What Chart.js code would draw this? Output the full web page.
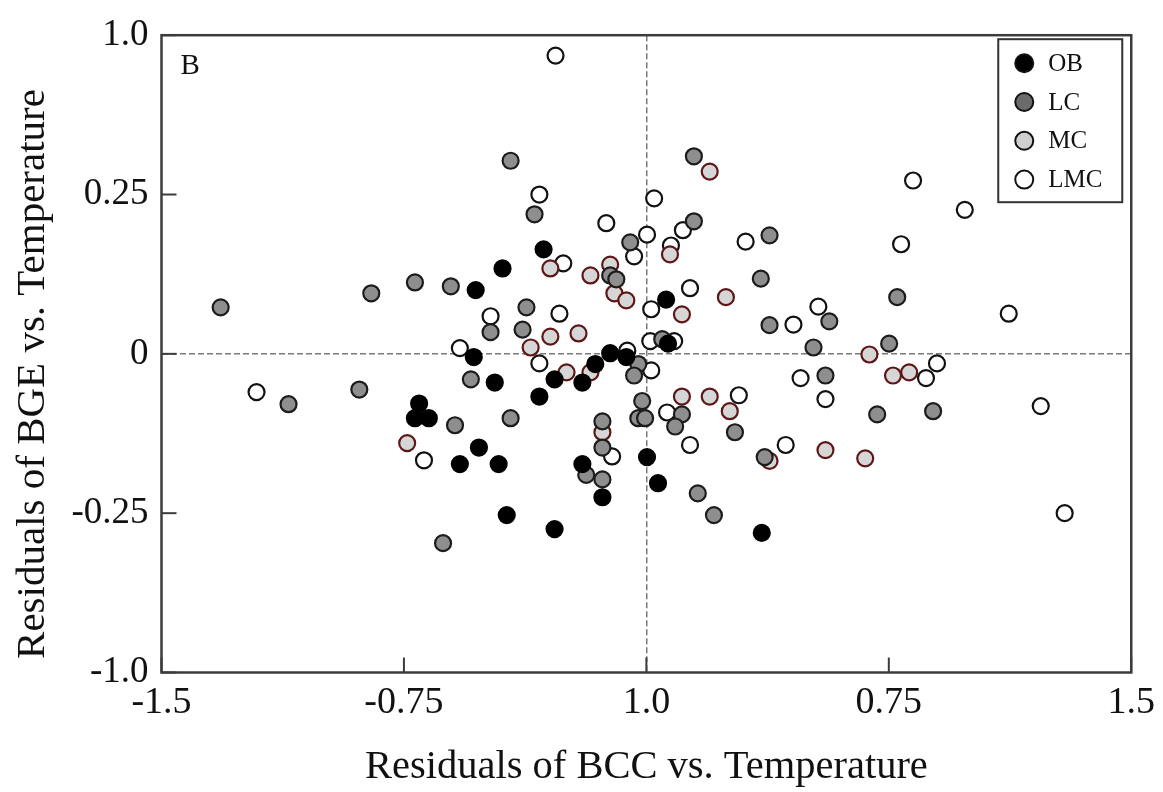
<!DOCTYPE html>
<html>
<head>
<meta charset="utf-8">
<title>Residuals of BGE vs BCC</title>
<script src="https://cdn.jsdelivr.net/npm/chart.js@4.4.1/dist/chart.umd.min.js"></script>
<style>
  html, body { margin: 0; padding: 0; background: #fff; }
  #wrap { width: 1163px; height: 792px; position: relative; }
</style>
</head>
<body>
<div id="wrap"><canvas id="chartResiduals"></canvas></div>
<script>
// ============================================================
// Data (x = residual BCC, y = residual BGE)
// ============================================================
const seriesNames = ["OB", "LC", "MC", "LMC"];

const obX = [-0.318, -0.445, -0.528, 0.061, -0.534, -0.112, -0.062, -0.158, -0.284, -0.198, -0.469, -0.331, -0.703,
  -0.716, -0.673, -0.518, -0.577, -0.457, -0.198, 0.002, 0.036, -0.136, -0.432, -0.284, 0.357, 0.067];
const obY = [0.164, 0.134, 0.100, 0.085, -0.005, 0.001, -0.005, -0.016, -0.040, -0.045, -0.045, -0.067, -0.078,
  -0.101, -0.101, -0.147, -0.173, -0.173, -0.173, -0.162, -0.203, -0.225, -0.253, -0.275, -0.281, 0.016];

const lcX = [-0.420, 0.147, -0.346, 0.147, 0.381, -0.050, -1.317, -0.851, -0.716, -0.605, -0.482, -0.543, -1.107,
  -0.888, -0.592, -0.629, -0.112, -0.093, -0.371, -0.383, 0.049, 0.381, -0.025, -0.038, -0.420, -0.013, -0.025,
  -0.004, 0.110, 0.089, 0.274, -0.136, -0.136, -0.186, -0.136, 0.159, 0.209, 0.366, 0.354, 0.776, 0.566, 0.517,
  0.751, 0.554, 0.714, 0.887];
const lcY = [0.303, 0.310, 0.219, 0.208, 0.186, 0.175, 0.073, 0.095, 0.112, 0.106, 0.034, -0.040, -0.079,
  -0.056, -0.112, -0.297, 0.123, 0.117, 0.073, 0.038, 0.023, 0.045, -0.016, -0.034, -0.101, -0.074, -0.101,
  -0.101, -0.095, -0.114, -0.123, -0.106, -0.147, -0.190, -0.197, -0.219, -0.253, -0.162, 0.118, 0.089, 0.051,
  0.010, 0.016, -0.034, -0.095, -0.090];

const mcX = [0.196, 0.073, -0.740, -0.297, -0.173, -0.112, -0.099, -0.062, 0.246, 0.110, -0.297, -0.210, -0.358,
  -0.247, -0.173, 0.110, 0.196, 0.258, -0.136, 0.381, 0.690, 0.763, 0.813, 0.554, 0.677];
const mcY = [0.286, 0.156, -0.140, 0.134, 0.123, 0.140, 0.095, 0.084, 0.089, 0.062, 0.027, 0.032, 0.010,
  -0.029, -0.029, -0.067, -0.067, -0.090, -0.123, -0.168, -0.001, -0.034, -0.029, -0.151, -0.164];

const lmcX = [-0.281, -0.331, 0.024, -0.124, 0.113, 0.002, 0.307, 0.825, 0.985, 0.788, -0.482, -0.577, -1.206,
  -0.688, 0.076, -0.038, -0.257, 0.135, 0.015, -0.269, 0.012, 0.086, 0.455, -0.331, -0.059, 0.015, 0.477,
  0.286, 0.064, -0.106, 0.135, 0.431, 0.532, 1.121, 0.899, 0.865, 0.554, 1.220, 1.294];
const lmcY = [0.468, 0.250, 0.244, 0.205, 0.194, 0.187, 0.176, 0.272, 0.226, 0.172, 0.059, 0.009, -0.060,
  -0.167, 0.170, 0.153, 0.142, 0.103, 0.070, 0.063, 0.020, 0.020, 0.046, -0.015, 0.005, -0.026, -0.038,
  -0.065, -0.092, -0.161, -0.143, -0.143, 0.074, 0.063, -0.015, -0.038, -0.071, -0.082, -0.250];

// tick labels as printed on the figure
const xTickLabels = ["-1.5", "-0.75", "1.0", "0.75", "1.5"];
const yTickLabels = ["-1.0", "-0.25", "0", "0.25", "1.0"];
const yTitle = "Residuals of BGE vs. Temperature";

const toPoints = (xs, ys) => xs.map((x, i) => ({ x: x, y: ys[i] }));

// ============================================================
// Plugins: frame + inward ticks, panel letter, y title, inset legend
// ============================================================
const SERIF = "'Liberation Serif', 'Times New Roman', serif";

const framePlugin = {
  id: "frame",
  afterDatasetsDraw(chart) {
    const { ctx, chartArea: a, scales } = chart;
    ctx.save();
    ctx.strokeStyle = "#3c3c3c";
    ctx.lineWidth = 2.5;
    ctx.strokeRect(a.left, a.top, a.right - a.left, a.bottom - a.top);

    // tick marks point into the plot
    ctx.lineWidth = 2;
    scales.x.ticks.forEach(t => {
      const px = scales.x.getPixelForValue(t.value);
      ctx.beginPath();
      ctx.moveTo(px, a.bottom);
      ctx.lineTo(px, a.bottom - 15);
      ctx.stroke();
    });
    scales.y.ticks.forEach(t => {
      const py = scales.y.getPixelForValue(t.value);
      ctx.beginPath();
      ctx.moveTo(a.left, py);
      ctx.lineTo(a.left + 15, py);
      ctx.stroke();
    });

    // panel letter
    ctx.fillStyle = "#111";
    ctx.font = "29px " + SERIF;
    ctx.textBaseline = "alphabetic";
    ctx.textAlign = "left";
    ctx.fillText("B", a.left + 19, a.top + 38.5);

    // y axis title (sits a bit below the axis centre in the original)
    ctx.save();
    ctx.translate(44, 374);
    ctx.rotate(-Math.PI / 2);
    ctx.font = "41px " + SERIF;
    ctx.textAlign = "center";
    ctx.fillText(yTitle, 0, 0);
    ctx.restore();

    ctx.restore();
  },
};

const legendFill = ["#000000", "#6b6b6b", "#cfcfcf", "#ffffff"];

const insetLegend = {
  id: "insetLegend",
  afterDraw(chart) {
    const { ctx, chartArea: a } = chart;
    const boxL = a.right - 133, boxT = a.top + 4, boxW = 124, boxH = 163;
    ctx.save();
    ctx.fillStyle = "#fff";
    ctx.fillRect(boxL, boxT, boxW, boxH);
    ctx.strokeStyle = "#333";
    ctx.lineWidth = 2;
    ctx.strokeRect(boxL, boxT, boxW, boxH);

    ctx.font = "25px " + SERIF;
    ctx.textBaseline = "middle";
    ctx.textAlign = "left";
    seriesNames.forEach((name, i) => {
      const cy = boxT + 24 + i * 38.8;
      const cx = boxL + 26;
      ctx.beginPath();
      ctx.arc(cx, cy, 9, 0, Math.PI * 2);
      ctx.fillStyle = legendFill[i];
      ctx.fill();
      ctx.lineWidth = 2;
      ctx.strokeStyle = "#111";
      ctx.stroke();
      ctx.fillStyle = "#111";
      ctx.fillText(name, boxL + 50, cy + 1);
    });
    ctx.restore();
  },
};

// ============================================================
// Chart
// ============================================================
const ctx = document.getElementById("chartResiduals").getContext("2d");

const pointStyle = (fill, border) => ({
  backgroundColor: fill,
  borderColor: border,
  borderWidth: 2.2,
  pointRadius: 8,
  pointHoverRadius: 8,
  pointStyle: "circle",
});

const zeroLine = c => (c.tick && c.tick.value === 0 ? "#7a7a7a" : "rgba(0,0,0,0)");

window.residualChart = new Chart(ctx, {
  type: "scatter",
  data: {
    datasets: [
      { label: seriesNames[0], data: toPoints(obX, obY), ...pointStyle("#000000", "#000000") },
      { label: seriesNames[1], data: toPoints(lcX, lcY), ...pointStyle("#8e8e8e", "#1c1c1c") },
      { label: seriesNames[2], data: toPoints(mcX, mcY), ...pointStyle("#d6d6d6", "#5e1717") },
      { label: seriesNames[3], data: toPoints(lmcX, lmcY), ...pointStyle("#ffffff", "#111111") },
    ],
  },
  options: {
    responsive: true,
    maintainAspectRatio: false,
    animation: false,
    events: [],
    layout: { padding: { top: 34.5, right: 28, left: 0, bottom: 0 } },
    plugins: {
      legend: { display: false },
      tooltip: { enabled: false },
    },
    scales: {
      x: {
        type: "linear",
        min: -1.5,
        max: 1.5,
        afterFit: scale => { scale.height = 119.5; },
        afterBuildTicks: scale => {
          scale.ticks = [-1.5, -0.75, 0, 0.75, 1.5].map(v => ({ value: v }));
        },
        ticks: {
          autoSkip: false,
          maxRotation: 0,
          padding: 8,
          color: "#111",
          font: { family: SERIF, size: 38 },
          callback: (v, i) => xTickLabels[i],
        },
        grid: { drawTicks: false, lineWidth: 1.5, color: zeroLine },
        border: { display: false, dash: [6, 3] },
        title: {
          display: true,
          text: "Residuals of BCC vs. Temperature",
          color: "#111",
          font: { family: SERIF, size: 40.5 },
          padding: { top: 0, bottom: 0 },
        },
      },
      y: {
        type: "linear",
        min: -0.5,
        max: 0.5,
        afterFit: scale => { scale.width = 161.5; },
        afterBuildTicks: scale => {
          scale.ticks = [-0.5, -0.25, 0, 0.25, 0.5].map(v => ({ value: v }));
        },
        ticks: {
          autoSkip: false,
          padding: 13,
          color: "#111",
          font: { family: SERIF, size: 37 },
          callback: (v, i) => yTickLabels[i],
        },
        grid: { drawTicks: false, lineWidth: 1.5, color: zeroLine },
        border: { display: false, dash: [6, 3] },
        title: { display: false },
      },
    },
  },
  plugins: [framePlugin, insetLegend],
});
</script>
</body>
</html>
